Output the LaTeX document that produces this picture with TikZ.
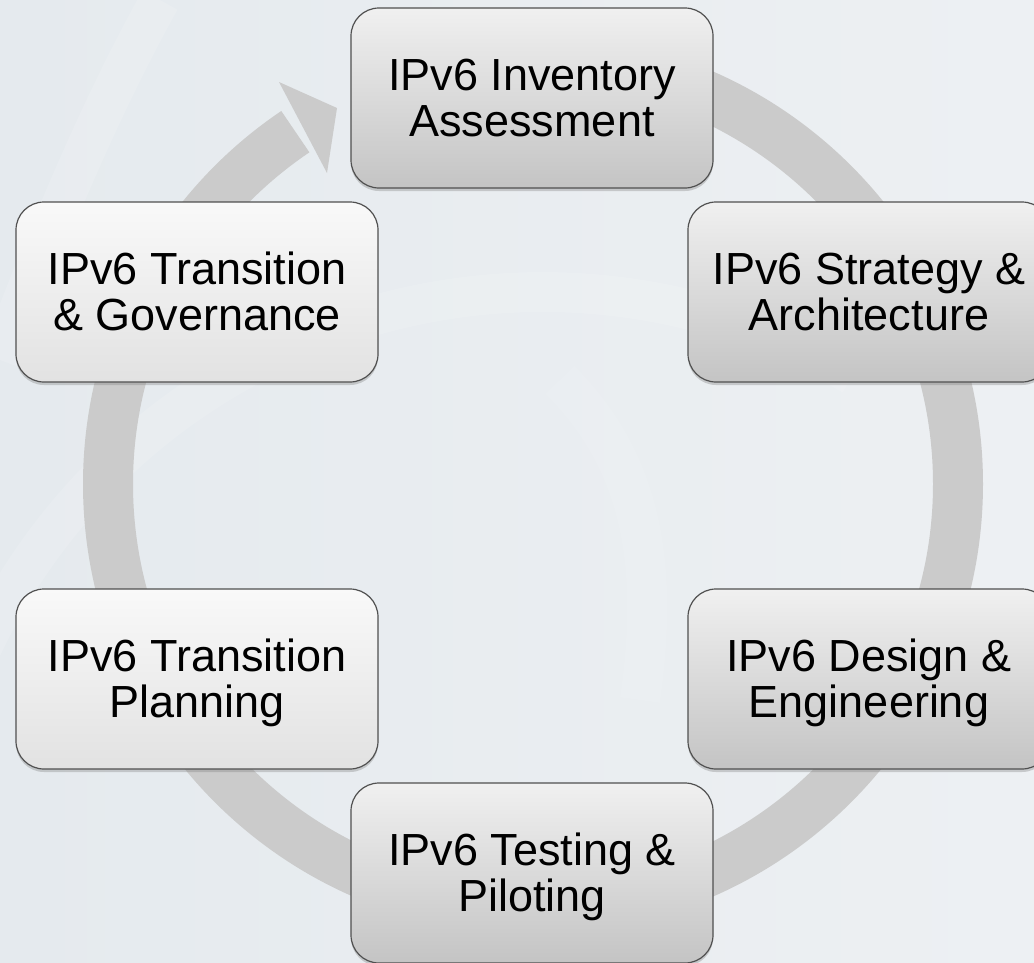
\documentclass[tikz,border=0pt]{standalone}
\usepackage{fontspec}
\setmainfont{Liberation Sans}
\usetikzlibrary{shadows}
\definecolor{bgL}{RGB}{229,234,238}
\definecolor{bgR}{RGB}{237,240,243}
\definecolor{ringgray}{RGB}{203,203,203}
\definecolor{boxline}{RGB}{80,80,80}
\definecolor{dtop}{RGB}{240,240,240}
\definecolor{dbot}{RGB}{196,196,196}
\definecolor{ltop}{RGB}{249,249,249}
\definecolor{lbot}{RGB}{226,226,226}
\begin{document}
\begin{tikzpicture}[x=1pt,y=-1pt,
  stage/.style={draw=boxline, line width=1.2pt, rounded corners=28pt,
    minimum width=362pt, minimum height=180pt, inner sep=0pt,
    text height=32pt, text depth=48pt,
    font=\fontsize{45}{46.7}\selectfont,
    drop shadow={shadow xshift=0pt, shadow yshift=-3pt, opacity=0.35}},
  darkstage/.style={stage, top color=dtop, bottom color=dbot},
  lightstage/.style={stage, top color=ltop, bottom color=lbot},
  ring/.style={draw=ringgray, line width=50pt},
  swoosh/.style={draw=white, opacity=0.12, line width=40pt}]
\useasboundingbox (0,0) rectangle (1034,962);
\clip (0,0) rectangle (1034,962);
% background
\shade[left color=bgL, right color=bgR] (0,0) rectangle (1034,962);
\draw[swoosh] (-40,700) arc[start angle=200, end angle=300, radius=620];
\draw[swoosh] (0,360) .. controls (60,200) and (110,90) .. (160,0);
\draw[swoosh, opacity=0.08] (560,380) .. controls (640,460) and (660,560) .. (640,700);
% ring with arrow head
\draw[ring] (533,484) ++(-90:425) arc[start angle=-90, end angle=236, radius=425];
\coordinate (hA) at (279,82);
\coordinate (hT) at (337,108);
\coordinate (hB) at (327,173);
\fill[ringgray] (hA) -- (hT) -- (hB) -- cycle;
% stages
\node[darkstage] (inv) at (532,98) {\begin{tabular}[t]{@{}c@{}}IPv6 Inventory\\Assessment\end{tabular}};
\node[darkstage] (strat) at (869,292) {\begin{tabular}[t]{@{}c@{}}IPv6 Strategy \&\\Architecture\end{tabular}};
\node[darkstage] (design) at (869,679) {\begin{tabular}[t]{@{}c@{}}IPv6 Design \&\\Engineering\end{tabular}};
\node[darkstage] (test) at (532,873) {\begin{tabular}[t]{@{}c@{}}IPv6 Testing \&\\Piloting\end{tabular}};
\node[lightstage] (plan) at (197,679) {\begin{tabular}[t]{@{}c@{}}IPv6 Transition\\Planning\end{tabular}};
\node[lightstage] (gov) at (197,292) {\begin{tabular}[t]{@{}c@{}}IPv6 Transition\\\& Governance\end{tabular}};
\end{tikzpicture}
\end{document}
